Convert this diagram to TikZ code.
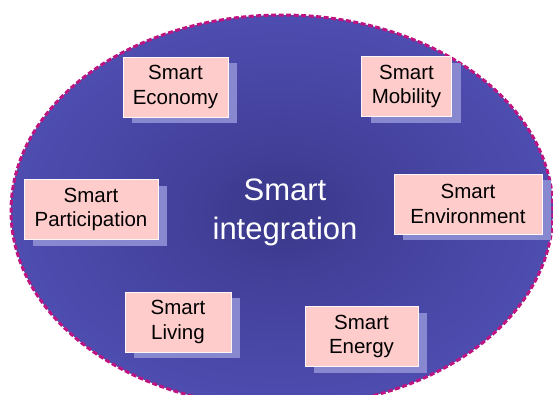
\documentclass[tikz,border=0pt]{standalone}
\usepackage{fontspec}
\setmainfont{Liberation Sans}
\usepackage{xcolor}
\usepackage{tikz}
\usetikzlibrary{shadows}
\definecolor{ovalblue}{RGB}{84,84,188}
\definecolor{glowmid}{RGB}{72,70,164}
\definecolor{glowcore}{RGB}{58,56,138}
\definecolor{rimmagenta}{RGB}{190,20,130}
\definecolor{boxpink}{RGB}{255,204,204}
\definecolor{shadowlav}{RGB}{136,136,208}
\pgfdeclareradialshading{smartglow}{\pgfpoint{0bp}{0bp}}{%
  color(0bp)=(glowcore); color(16bp)=(glowmid); color(34bp)=(ovalblue);
  color(50bp)=(ovalblue)}
\tikzset{
  area/.style={rectangle, draw=white!85!boxpink, line width=0.5pt, fill=boxpink,
               minimum height=60pt, inner sep=0pt, align=center,
               font=\fontsize{20.5}{24.5}\selectfont,
               drop shadow={shadow xshift=9pt, shadow yshift=-6pt,
                            fill=shadowlav, opacity=1, draw=none}},
  core/.style={align=center, text=white,
               font=\fontsize{31}{39}\selectfont},
  rim/.style={draw=rimmagenta, line width=3pt, dash pattern=on 5pt off 2.5pt}
}

\begin{document}
\begin{tikzpicture}[x=1pt, y=-1pt]
  \useasboundingbox (0,0) rectangle (553,394);

  % Oval
  \shade[shading=smartglow]
    (282,211) ellipse [x radius=271pt, y radius=196pt];
  \draw[rim] (282,211) ellipse [x radius=271pt, y radius=196pt];

  % Centre text
  \node[core] (integ) at (285,212) {Smart\\integration};

  % Boxes
  \node[area, minimum width=105pt] (econ) at (175.5,87)  {Smart\\Economy};
  \node[area, minimum width=90pt]  (mob)  at (406.5,86.5){Smart\\Mobility};
  \node[area, minimum width=134pt] (part) at (91,209.5)  {Smart\\Participation};
  \node[area, minimum width=148pt] (env)  at (468,204)   {Smart\\Environment};
  \node[area, minimum width=106pt] (liv)  at (178,322)   {Smart\\Living};
  \node[area, minimum width=113pt] (ener) at (361.5,336.5){Smart\\Energy};

\end{tikzpicture}
\end{document}
